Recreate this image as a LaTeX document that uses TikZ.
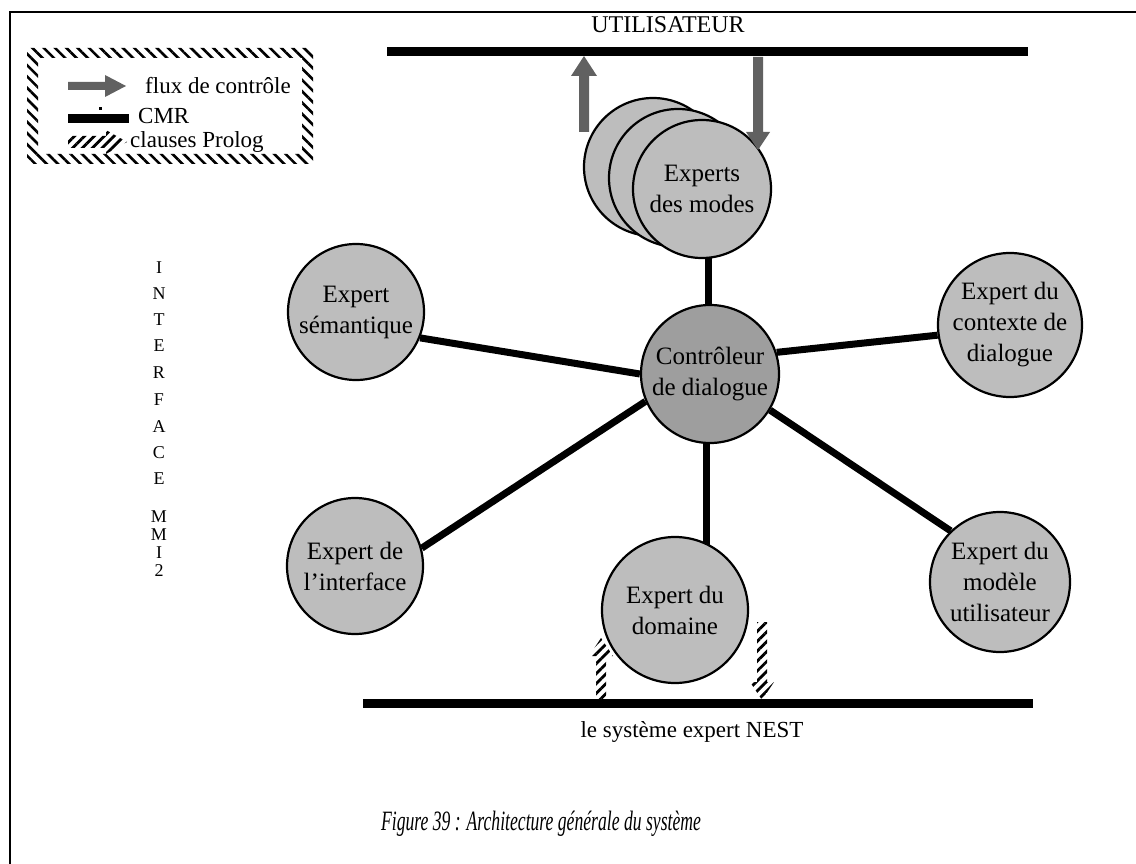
\documentclass[tikz,border=0pt]{standalone}
\usepackage{fontspec}
\setmainfont{Liberation Serif}
\usetikzlibrary{patterns.meta,arrows.meta,calc,backgrounds}
\begin{document}
\begin{tikzpicture}[x=1pt,y=-1pt,
  expert/.style={circle, draw=black, line width=2.2pt, fill=black!26, inner sep=0pt, align=center,
     font=\fontsize{25}{31}\selectfont},
  cmr/.style={line width=7pt, black},
  bar/.style={line width=9pt, black},
  flux/.style={fill=black!62},
  hatch/.style={pattern={Lines[angle=45,distance=7pt,line width=2.8pt]}},
  lbl/.style={inner sep=0pt, font=\fontsize{23}{27}\selectfont},
  vert/.style={inner sep=0pt, font=\fontsize{18}{18}\selectfont}
]
\useasboundingbox (0,0) rectangle (1136,864);
% frame
\draw[line width=2pt] (10,864) -- (10,12) -- (1136,12);

% legend box
\fill[pattern={Lines[angle=-45,distance=8pt,line width=2.6pt]}, even odd rule]
  (27,48) rectangle (313,164) (38,58) rectangle (302,154);
\fill[flux] (68,82) -- (105,82) -- (105,75) -- (126,86) -- (105,97) -- (105,90) -- (68,90) -- cycle;
\node[lbl, anchor=west] (lflux) at (145,86) {flux de contrôle};
\fill[black] (68,114) rectangle (129,123);
\fill[black] (99,107) rectangle (102,110);
\node[lbl, anchor=west] (lcmr) at (138,116) {CMR};
\fill[hatch] (68,136) -- (106,136) -- (106,130) -- (127,142) -- (106,154) -- (106,148) -- (68,148) -- cycle;
\node[lbl, anchor=west] (lpro) at (130,142) {clauses Prolog};

% top: user
\node[lbl, font=\fontsize{24}{28}\selectfont] (user) at (668,25) {UTILISATEUR};
\coordinate (tbL) at (387,52);
\coordinate (tbR) at (1028,52);
\draw[bar] (tbL) -- (tbR);

% bottom: NEST
\coordinate (bbL) at (363,703);
\coordinate (bbR) at (1033,703);
\draw[bar] (bbL) -- (bbR);
\node[lbl] (nest) at (692,732) {le système expert NEST};

% experts des modes (stack)
\node[expert, minimum size=138pt] (m1) at (653,167) {};
\node[expert, minimum size=138pt] (m2) at (678,178) {};
\node[expert, minimum size=138pt] (modes) at (702,189) {Experts\\des modes};

% nodes
\node[expert, minimum size=138pt, fill=black!38] (ctrl) at (710,374) {Contrôleur\\de dialogue};
\node[expert, minimum size=136pt] (sem) at (356,312) {Expert\\sémantique};
\node[expert, minimum size=144pt] (ctx) at (1010,325) {Expert du\\contexte de\\dialogue};
\node[expert, minimum size=136pt] (itf) at (355,566) {Expert de\\l’interface};
\node[expert, minimum size=140pt] (mod) at (1000,582) {Expert du\\modèle\\utilisateur};
\node[expert, minimum size=146pt] (dom) at (675,610) {Expert du\\domaine};

% CMR links (behind the circles)
\begin{scope}[on background layer]
\fill[white] (0,0) rectangle (1136,864);
\draw[cmr] (modes.center -| 708,0) -- (ctrl.center -| 708,0);
\draw[cmr] (sem.-22) -- (ctrl.180);
\draw[cmr] (ctrl.18) -- (ctx.188);
\draw[cmr] (itf.15) -- (ctrl.203);
\draw[cmr] (ctrl.-31) -- (mod.134);
\draw[cmr] (ctrl.center -| 706,0) -- (dom.center -| 706,0);
\end{scope}

% flux de controle arrows
\coordinate (upS) at (584,132);
\coordinate (upE) at (584,56);
\fill[flux] ($(upS)+(-5,0)$) -- ($(upE)+(-5,20)$) -- ($(upE)+(-13,20)$) -- (upE) -- ($(upE)+(13,20)$) -- ($(upE)+(5,20)$) -- ($(upS)+(5,0)$) -- cycle;
\coordinate (dnS) at (758,57);
\coordinate (dnE) at (758,150);
\fill[flux] ($(dnS)+(-5,0)$) -- ($(dnE)+(-5,-18)$) -- ($(dnE)+(-12,-18)$) -- (dnE) -- ($(dnE)+(12,-18)$) -- ($(dnE)+(5,-18)$) -- ($(dnS)+(5,0)$) -- cycle;

% clauses Prolog
\coordinate (pS) at (601,702);
\coordinate (pE) at (601,638);
\fill[hatch] ($(pS)+(-5,0)$) -- ($(pE)+(-5,18)$) -- ($(pE)+(-12,18)$) -- (pE) -- ($(pE)+(12,18)$) -- ($(pE)+(5,18)$) -- ($(pS)+(5,0)$) -- cycle;
\coordinate (qS) at (762,622);
\coordinate (qE) at (762,700);
\fill[hatch] ($(qS)+(-5,0)$) -- ($(qE)+(-5,-18)$) -- ($(qE)+(-12,-18)$) -- (qE) -- ($(qE)+(12,-18)$) -- ($(qE)+(5,-18)$) -- ($(qS)+(5,0)$) -- cycle;

% INTERFACE MMI2
\foreach \ch/\yy/\nm in {I/268/v1,N/294/v2,T/320/v3,E/346/v4,R/373/v5,F/400/v6,A/427/v7,C/453/v8,E/479/v9,M/517/v10,M/535/v11,I/553/v12,2/571/v13}
  \node[vert] (\nm) at (159,\yy) {\ch};

% caption
\node[inner sep=0pt, font=\itshape\fontsize{28}{32}\selectfont] (cap) at (541,824) {\scalebox{0.63}[1]{Figure 39 : Architecture générale du système}};
\end{tikzpicture}
\end{document}
